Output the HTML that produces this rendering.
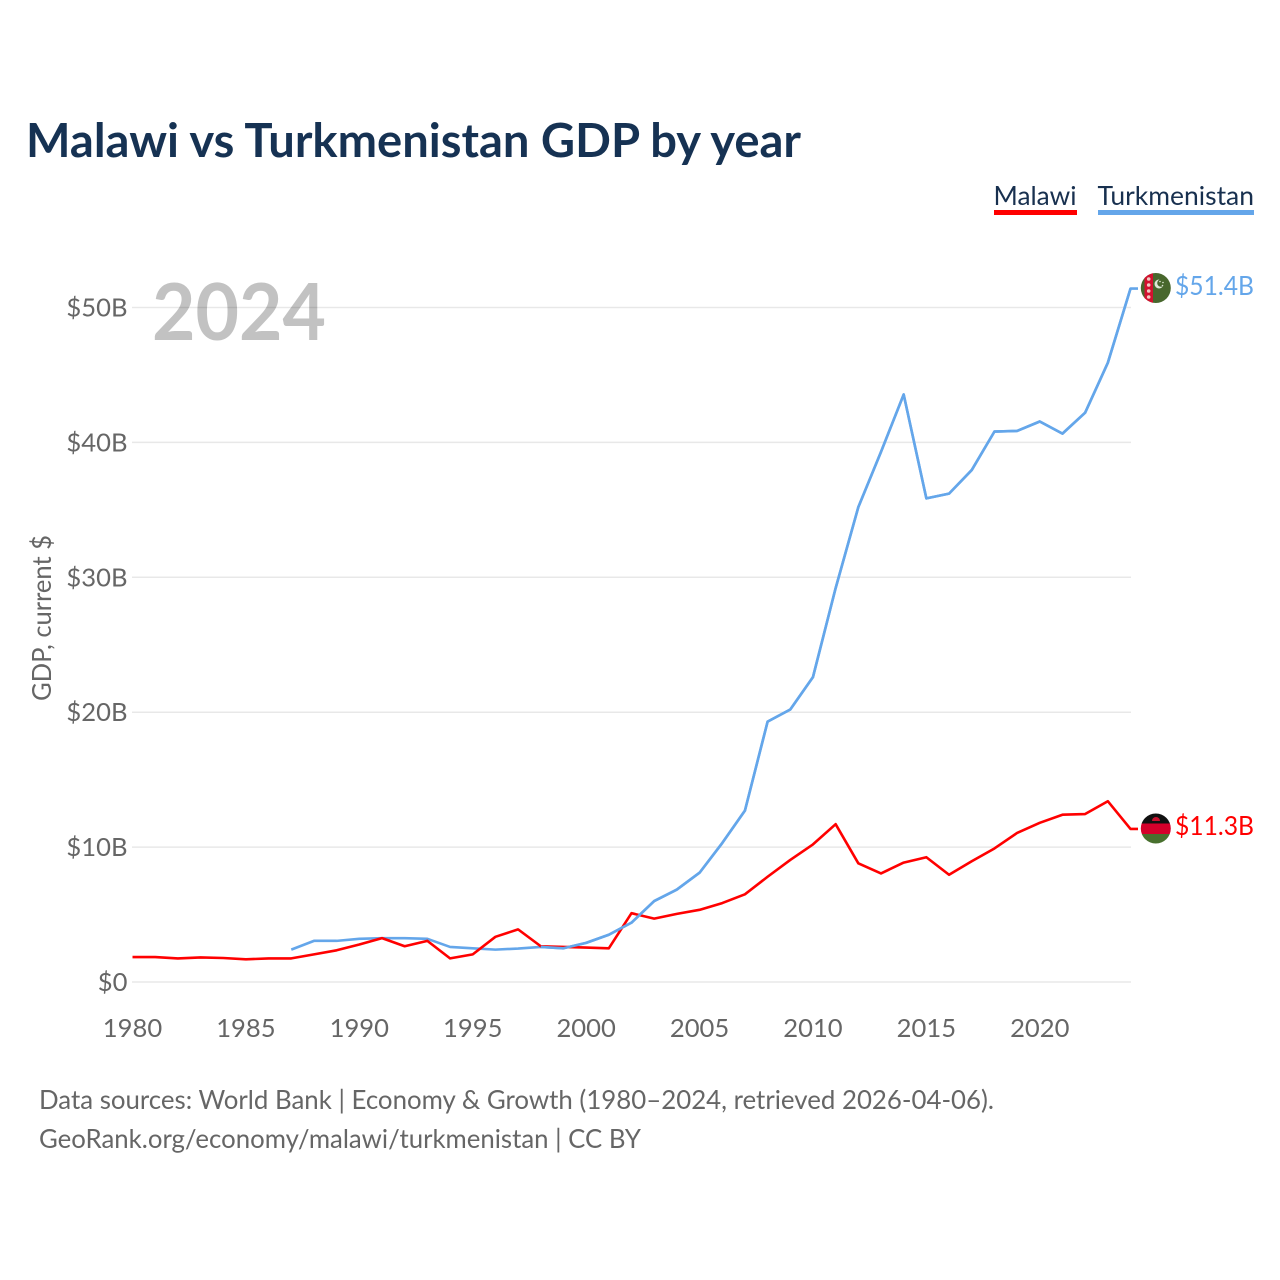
<!DOCTYPE html>
<html lang="en">
<head>
<meta charset="utf-8">
<title>Malawi vs Turkmenistan GDP by year</title>
<style>
html,body{margin:0;padding:0;background:#fff}
svg{display:block}
text{font-family:"Lato","Carlito","Liberation Sans",sans-serif}
</style>
</head>
<body>
<svg id="chart" xmlns="http://www.w3.org/2000/svg" width="1280" height="1280" viewBox="0 0 1280 1280">
  <rect x="0" y="0" width="1280" height="1280" fill="#fff"/>
  <text x="26" y="157" font-size="47" font-weight="700" fill="#163253" textLength="775" lengthAdjust="spacingAndGlyphs">Malawi vs Turkmenistan GDP by year</text>

  <g>
    <g>
      <text x="993.5" y="205" font-size="26.5" fill="#18304f" textLength="83" lengthAdjust="spacingAndGlyphs">Malawi</text>
      <rect x="994" y="210" width="83" height="5" fill="#ff0000"/>
    </g>
    <g>
      <text x="1097.5" y="205" font-size="26.5" fill="#18304f" textLength="156.5" lengthAdjust="spacingAndGlyphs">Turkmenistan</text>
      <rect x="1098" y="210" width="156" height="5" fill="#64a6ea"/>
    </g>
  </g>

  <text x="152" y="340" font-size="79" font-weight="700" fill="#c2c2c2" textLength="174" lengthAdjust="spacingAndGlyphs">2024</text>

  <g id="grid"></g>
  <g id="yticks"></g>
  <g id="xticks"></g>

  <text transform="translate(51 618) rotate(-90)" text-anchor="middle" font-size="26" fill="#666" textLength="166" lengthAdjust="spacingAndGlyphs">GDP, current $</text>

  <g id="series"></g>

  <defs>
    <clipPath id="flag-clip-tm"><circle cx="1155.8" cy="288" r="15"/></clipPath>
    <clipPath id="flag-clip-mw"><circle cx="1155.8" cy="828.5" r="15"/></clipPath>
  </defs>

  <g clip-path="url(#flag-clip-tm)">
    <rect x="1140" y="272" width="32" height="32" fill="#48672d"/>
    <rect x="1144.5" y="272" width="8.5" height="32" fill="#d3112f"/>
    <circle cx="1148.7" cy="279" r="1.8" fill="#f0c8c0"/>
    <circle cx="1148.7" cy="285" r="1.8" fill="#f0c8c0"/>
    <circle cx="1148.7" cy="291" r="1.8" fill="#f0c8c0"/>
    <circle cx="1148.7" cy="297" r="1.8" fill="#f0c8c0"/>
    <circle cx="1159" cy="284" r="4.5" fill="#dfe8d6"/>
    <circle cx="1161" cy="283" r="3.8" fill="#48672d"/>
    <circle cx="1160" cy="281.5" r="0.8" fill="#dfe8d6"/>
    <circle cx="1163" cy="282.5" r="0.8" fill="#dfe8d6"/>
    <circle cx="1162.5" cy="285.5" r="0.8" fill="#dfe8d6"/>
  </g>
  <g clip-path="url(#flag-clip-mw)">
    <rect x="1140" y="812" width="32" height="12" fill="#111"/>
    <rect x="1140" y="823.5" width="32" height="10.5" fill="#d5002b"/>
    <rect x="1140" y="834" width="32" height="11" fill="#48702e"/>
    <path d="M1152 821 a4 4 0 0 1 8 0 z" fill="#c8102e"/>
  </g>

  <text id="label-tm" x="1175" y="295" font-size="26" fill="#64a6ea" textLength="79" lengthAdjust="spacingAndGlyphs"></text>
  <text id="label-mw" x="1175" y="835" font-size="26" fill="#ff0000" textLength="79" lengthAdjust="spacingAndGlyphs"></text>

  <g>
    <text x="39" y="1109" font-size="26" fill="#666" textLength="955" lengthAdjust="spacingAndGlyphs">Data sources: World Bank | Economy &amp; Growth (1980–2024, retrieved 2026-04-06).</text>
    <text x="39" y="1148" font-size="26" fill="#666" textLength="602" lengthAdjust="spacingAndGlyphs">GeoRank.org/economy/malawi/turkmenistan | CC BY</text>
  </g>
</svg>
<script>
const malawiStartYear = 1980;
const malawiValues = [1.85,1.85,1.75,1.82,1.78,1.68,1.75,1.75,2.05,2.35,2.78,3.25,2.65,3.05,1.75,2.05,3.35,3.9,2.65,2.6,2.55,2.5,5.1,4.7,5.05,5.35,5.85,6.5,7.8,9.05,10.2,11.7,8.8,8.05,8.85,9.25,7.95,8.95,9.9,11.05,11.8,12.4,12.45,13.4,11.35];
const turkmenistanStartYear = 1987;
const turkmenistanValues = [2.4,3.05,3.05,3.2,3.25,3.25,3.2,2.6,2.5,2.4,2.48,2.6,2.5,2.9,3.5,4.4,6.0,6.85,8.1,10.3,12.7,19.3,20.2,22.6,29.2,35.2,39.3,43.55,35.85,36.2,37.95,40.8,40.85,41.55,40.65,42.2,45.9,51.4];
const yTickValues = [0,10,20,30,40,50];
const xTickYears = [1980,1985,1990,1995,2000,2005,2010,2015,2020];

const NS = 'http://www.w3.org/2000/svg';
const xScale = year => 132.5 + (year - 1980) * (1130.5 - 132.5) / 44;
const yScale = v => 982 - v * (982 - 307.5) / 50;
const moneyLabel = v => '$' + v + (v === 0 ? '' : 'B');

const make = (tag, attrs, parent) => {
  const el = document.createElementNS(NS, tag);
  for (const k in attrs) el.setAttribute(k, attrs[k]);
  parent.appendChild(el);
  return el;
};

const grid = document.getElementById('grid');
const yticks = document.getElementById('yticks');
yTickValues.forEach(v => {
  const line = make('line', {x1: 132, x2: 1131, y1: yScale(v), y2: yScale(v), stroke: 'rgba(0,0,0,0.09)', 'stroke-width': 1.5}, grid);
  
  
  const t = make('text', {x: 127.5, y: yScale(v) + 9, 'text-anchor': 'end', 'font-size': 25.6, fill: '#666'}, yticks);
  
  
  t.textContent = moneyLabel(v);
});

const xticks = document.getElementById('xticks');
xTickYears.forEach(y => {
  const t = make('text', {x: xScale(y), y: 1037, 'text-anchor': 'middle', 'font-size': 25.6, fill: '#666'}, xticks);
  
  
  t.textContent = y;
});

const seriesGroup = document.getElementById('series');
const drawSeries = (values, start, color, name) => {
  const pts = values.map((v, i) => xScale(start + i).toFixed(2) + ',' + yScale(v).toFixed(2));
  const lastY = yScale(values[values.length - 1]).toFixed(2);
  pts.push('1138,' + lastY);
  const line = make('polyline', {points: pts.join(' '), fill: 'none', stroke: color, 'stroke-width': 2.6, 'stroke-linejoin': 'round'}, seriesGroup);
  
  
};
drawSeries(turkmenistanValues, turkmenistanStartYear, '#64a6ea', 'line-turkmenistan');
drawSeries(malawiValues, malawiStartYear, '#ff0000', 'line-malawi');
// Turkmenistan is drawn on top over the years both series overlap, after 1998.
const overlapStart = 1998 - turkmenistanStartYear;
const overlap = make('polyline', {
  points: turkmenistanValues.slice(overlapStart).map((v, i) => xScale(1998 + i).toFixed(2) + ',' + yScale(v).toFixed(2)).join(' '),
  fill: 'none', stroke: '#64a6ea', 'stroke-width': 2.6, 'stroke-linejoin': 'round'
}, seriesGroup);



document.getElementById('label-tm').textContent = '$' + turkmenistanValues[turkmenistanValues.length - 1].toFixed(1) + 'B';
document.getElementById('label-mw').textContent = '$' + (Math.floor(malawiValues[malawiValues.length - 1] * 10) / 10).toFixed(1) + 'B';
</script>
</body>
</html>
